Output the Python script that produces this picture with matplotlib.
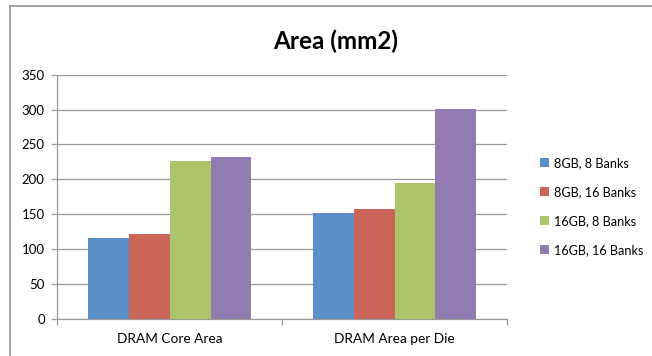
import numpy as np
import matplotlib as mpl
mpl.use("agg")
import matplotlib.pyplot as plt
from matplotlib.lines import Line2D

plt.rcParams['font.family'] = ['Lato', 'DejaVu Sans']

categories = ["DRAM Core Area", "DRAM Area per Die"]
series_names = ["8GB, 8 Banks", "8GB, 16 Banks", "16GB, 8 Banks", "16GB, 16 Banks"]
area_8gb_8b = [116, 151]
area_8gb_16b = [122, 157]
area_16gb_8b = [226, 194]
area_16gb_16b = [232, 301]
colors = ["#5A8EC6", "#CB6459", "#ACC46C", "#917BB1"]
yticks = [0, 50, 100, 150, 200, 250, 300, 350]

series = [area_8gb_8b, area_8gb_16b, area_16gb_8b, area_16gb_16b]

fig = plt.figure(figsize=(6.52, 3.56), dpi=100)
ax = fig.add_axes([0.0879, 0.1048, 0.6897, 0.6852])

x = np.arange(len(categories))
w = 1 / 5.5  # gap width 150%
for i, (vals, name, c) in enumerate(zip(series, series_names, colors)):
    ax.bar(x + (i - 1.5) * w, vals, w, color=c, label=name, zorder=3)

ax.set_ylim(0, 350)
ax.set_xlim(-0.5, len(categories) - 0.5)
ax.set_yticks(yticks)
ax.set_xticks(x)
ax.set_xticklabels(categories)
ax.set_xticks(np.arange(len(categories) + 1) - 0.5, minor=True)

grey = "#9a9a9a"
ax.yaxis.grid(True, color=grey, lw=0.9, zorder=0)
for s in ("top", "right"):
    ax.spines[s].set_visible(False)
for s in ("left", "bottom"):
    ax.spines[s].set_color(grey)
    ax.spines[s].set_linewidth(0.9)
ax.tick_params(axis="y", length=4, color=grey, width=0.9, labelsize=9.5, pad=5)
ax.tick_params(axis="x", which="major", length=0, labelsize=9.8, pad=10)
ax.tick_params(axis="x", which="minor", length=4, color=grey, width=0.9)

ax.legend(loc="center left", bbox_to_anchor=(0.818, 0.42), bbox_transform=fig.transFigure,
          frameon=False, fontsize=9.1, handlelength=0.7, handleheight=0.7,
          handletextpad=0.4, labelspacing=1.36, borderpad=0)

fig.text(0.515, 0.885, "Area (mm2)", ha="center", va="center", fontsize=17.5, fontweight="bold")

# frame edges along top and left
fig.add_artist(Line2D([10 / 652, 1], [1 - 6 / 356] * 2, color=grey, lw=1.3))
fig.add_artist(Line2D([10 / 652] * 2, [0, 1 - 6 / 356], color=grey, lw=1.3))

fig.savefig("out.png", dpi=100)
